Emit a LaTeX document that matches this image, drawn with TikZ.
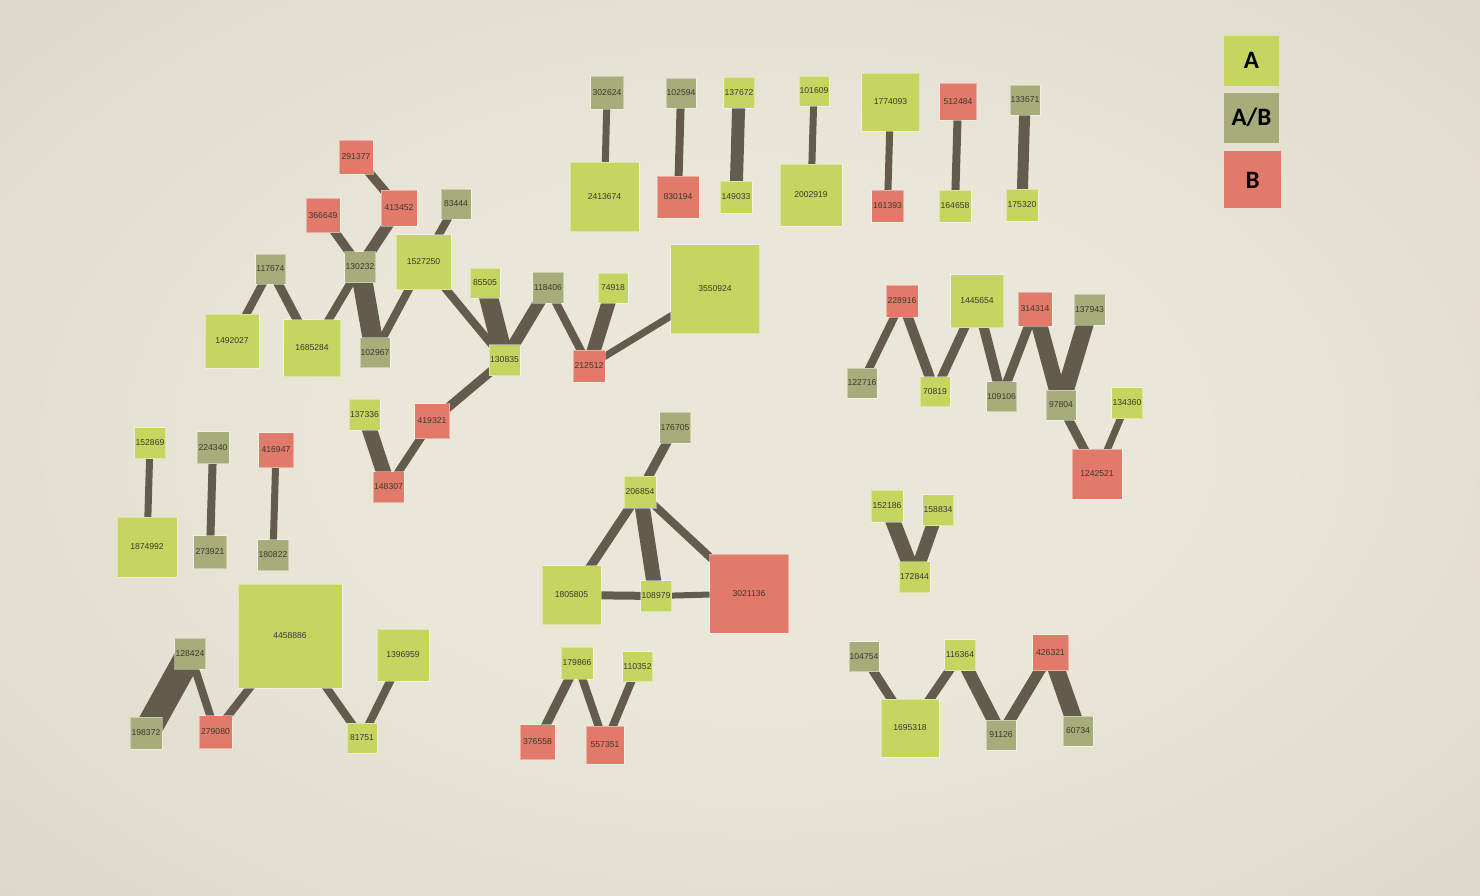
\documentclass[tikz,border=0pt]{standalone}
\usepackage{fontspec}
\setmainfont{Liberation Sans}
\newfontfamily\legfont{Carlito}
\pgfdeclarelayer{edgelayer}
\pgfsetlayers{edgelayer,main}
\definecolor{cA}{RGB}{197,214,96}
\definecolor{cAB}{RGB}{167,173,122}
\definecolor{cB}{RGB}{226,122,106}
\definecolor{edgec}{RGB}{99,92,77}
\definecolor{txtc}{RGB}{58,58,48}
\definecolor{bgin}{RGB}{234,230,216}
\definecolor{bgout}{RGB}{206,201,185}
\pgfdeclareradialshading{bgshade}{\pgfpoint{0bp}{0bp}}{color(0bp)=(bgin); color(12bp)=(bgin); color(50bp)=(bgout)}
\tikzset{
  sq/.style={rectangle, inner sep=0pt, minimum width=#1, minimum height=#1,
    draw=white, draw opacity=0.4, line width=0.6pt,
    font=\fontsize{8.6}{10}\selectfont, text=txtc},
  nA/.style={sq=#1, fill=cA},
  nAB/.style={sq=#1, fill=cAB},
  nB/.style={sq=#1, fill=cB},
  lnk/.style={line width=#1, draw=edgec, line cap=round},
  legbox/.style={rectangle, inner sep=0pt, font=\legfont\bfseries\fontsize{25}{28}\selectfont, text=black}
}
\begin{document}
\begin{tikzpicture}[x=1pt,y=-1pt]
\useasboundingbox (0,0) rectangle (1480,896);
\begin{pgfonlayer}{edgelayer}
\begin{scope}
\clip (0,0) rectangle (1480,896);
\shade[shading=bgshade] (-140,-120) rectangle (1660,1000);
\end{scope}
\end{pgfonlayer}

% top row
\node[nAB=33pt] (n302624) at (607,93) {302624};
\node[nA=69pt] (n2413674) at (604.5,197) {2413674};
\node[nAB=30pt] (n102594) at (681,93) {102594};
\node[nB=42pt] (n830194) at (678,197) {830194};
\node[nA=31pt] (n137672) at (739,93) {137672};
\node[nA=32pt] (n149033) at (736,197) {149033};
\node[nA=30pt] (n101609) at (814,91) {101609};
\node[nA=62pt] (n2002919) at (811,195) {2002919};
\node[nA=58pt] (n1774093) at (890.5,102) {1774093};
\node[nB=32pt] (n161393) at (887.5,206) {161393};
\node[nB=37pt] (n512484) at (958,102) {512484};
\node[nA=32pt] (n164658) at (955,206) {164658};
\node[nAB=30pt] (n133671) at (1025,100) {133671};
\node[nA=32pt] (n175320) at (1022,205) {175320};

% main cluster
\node[nB=34pt] (n291377) at (356,157) {291377};
\node[nB=36pt] (n413452) at (399,208) {413452};
\node[nB=34pt] (n366649) at (323,215.5) {366649};
\node[nAB=30pt] (n83444) at (456,204) {83444};
\node[nAB=30pt] (n117674) at (270.5,269) {117674};
\node[nAB=31pt] (n130232) at (360,267) {130232};
\node[nA=55pt] (n1527250) at (423.5,262) {1527250};
\node[nA=30pt] (n85505) at (485,283) {85505};
\node[nA=54pt] (n1492027) at (232,341) {1492027};
\node[nA=57pt] (n1685284) at (312,348) {1685284};
\node[nAB=30pt] (n102967) at (375,352.5) {102967};
\node[nA=31pt] (n130835) at (504.5,360) {130835};
\node[nAB=31pt] (n118406) at (548,287.5) {118406};
\node[nA=30pt] (n74918) at (613,288) {74918};
\node[nA=89pt] (n3550924) at (715,289) {3550924};
\node[nB=32pt] (n212512) at (589,366) {212512};
\node[nA=31pt] (n137336) at (364.5,414.5) {137336};
\node[nB=35pt] (n419321) at (432,421) {419321};
\node[nB=31pt] (n148307) at (388.5,487) {148307};

% triangle cluster
\node[nAB=31pt] (n176705) at (675,427.5) {176705};
\node[nA=32pt] (n206854) at (640,492) {206854};
\node[nA=59pt] (n1805805) at (571.5,595) {1805805};
\node[nA=31pt] (n108979) at (656,596) {108979};
\node[nB=79pt] (n3021136) at (749,593.5) {3021136};

% bottom middle
\node[nA=32pt] (n179866) at (577,663) {179866};
\node[nA=30pt] (n110352) at (637.5,666.5) {110352};
\node[nB=35pt] (n376558) at (537.5,742) {376558};
\node[nB=38pt] (n557351) at (605,745) {557351};

% bottom left
\node[nA=31pt] (n152869) at (150,443) {152869};
\node[nA=60pt] (n1874992) at (147,547) {1874992};
\node[nAB=32pt] (n224340) at (213,447.5) {224340};
\node[nAB=33pt] (n273921) at (210,552) {273921};
\node[nB=35pt] (n416947) at (276,450) {416947};
\node[nAB=31pt] (n180822) at (273,555) {180822};
\node[nA=104pt] (n4458886) at (290,636) {4458886};
\node[nA=52pt] (n1396959) at (403,655) {1396959};
\node[nAB=31pt] (n128424) at (190,653.5) {128424};
\node[nAB=32pt] (n198372) at (146,733) {198372};
\node[nB=33pt] (n279080) at (215.5,732) {279080};
\node[nA=30pt] (n81751) at (362,738) {81751};

% right cluster
\node[nB=32pt] (n228916) at (902,301) {228916};
\node[nA=53pt] (n1445654) at (977,301) {1445654};
\node[nB=34pt] (n314314) at (1035,309) {314314};
\node[nAB=31pt] (n137943) at (1089.5,309.5) {137943};
\node[nAB=30pt] (n122716) at (862,383) {122716};
\node[nA=30pt] (n70819) at (935,391.5) {70819};
\node[nAB=30pt] (n109106) at (1001.5,396.5) {109106};
\node[nAB=30pt] (n97804) at (1061,405) {97804};
\node[nA=31pt] (n134360) at (1127,403) {134360};
\node[nB=50pt] (n1242521) at (1097,474) {1242521};

% small Y
\node[nA=32pt] (n152186) at (887,506) {152186};
\node[nA=31pt] (n158834) at (938,510) {158834};
\node[nA=31pt] (n172844) at (914.5,577) {172844};

% bottom right
\node[nAB=30pt] (n104754) at (864,656.5) {104754};
\node[nA=58pt] (n1695318) at (910,728) {1695318};
\node[nA=31pt] (n116364) at (960,655) {116364};
\node[nAB=30pt] (n91126) at (1001,735) {91126};
\node[nB=36pt] (n426321) at (1050.5,652.5) {426321};
\node[nAB=30pt] (n60734) at (1078,731) {60734};

% legend
\node[legbox, fill=cA, minimum width=55pt, minimum height=50pt] (legA) at (1251.5,60.7) {A};
\node[legbox, fill=cAB, minimum width=55pt, minimum height=50pt] (legAB) at (1251.5,117.7) {A/B};
\node[legbox, fill=cB, minimum width=57pt, minimum height=57pt] (legB) at (1252.5,180) {B};

\begin{pgfonlayer}{edgelayer}
\draw[lnk=7pt] (n302624.center) -- (n2413674.center);
\draw[lnk=8pt] (n102594.center) -- (n830194.center);
\draw[lnk=13pt] (n137672.center) -- (n149033.center);
\draw[lnk=7pt] (n101609.center) -- (n2002919.center);
\draw[lnk=7pt] (n1774093.center) -- (n161393.center);
\draw[lnk=8pt] (n512484.center) -- (n164658.center);
\draw[lnk=11pt] (n133671.center) -- (n175320.center);

\draw[lnk=9pt] (n291377.center) -- (n413452.center);
\draw[lnk=9pt] (n366649.center) -- (n130232.center);
\draw[lnk=11pt] (n413452.center) -- (n130232.center);
\draw[lnk=8pt] (n83444.center) -- (n1527250.center);
\draw[lnk=8pt] (n117674.center) -- (n1492027.center);
\draw[lnk=9pt] (n117674.center) -- (n1685284.center);
\draw[lnk=8pt] (n130232.center) -- (n1685284.center);
\draw[lnk=20pt] (n130232.center) -- (n102967.center);
\draw[lnk=8pt] (n1527250.center) -- (n102967.center);
\draw[lnk=8pt] (n1527250.center) -- (n130835.center);
\draw[lnk=19pt] (n85505.center) -- (n130835.center);
\draw[lnk=12pt] (n118406.center) -- (n130835.center);
\draw[lnk=8pt] (n118406.center) -- (n212512.center);
\draw[lnk=14pt] (n74918.center) -- (n212512.center);
\draw[lnk=7pt] (n3550924.center) -- (n212512.center);
\draw[lnk=9pt] (n130835.center) -- (n419321.center);
\draw[lnk=15pt] (n137336.center) -- (n148307.center);
\draw[lnk=8pt] (n419321.center) -- (n148307.center);

\draw[lnk=9pt] (n176705.center) -- (n206854.center);
\draw[lnk=9pt] (n206854.center) -- (n1805805.center);
\draw[lnk=15pt] (n206854.center) -- (n108979.center);
\draw[lnk=8pt] (n206854.center) -- (n3021136.center);
\draw[lnk=8pt] (n1805805.center) -- (n108979.center);
\draw[lnk=6pt] (n108979.center) -- (n3021136.center);

\draw[lnk=9pt] (n179866.center) -- (n376558.center);
\draw[lnk=8pt] (n179866.center) -- (n557351.center);
\draw[lnk=8pt] (n110352.center) -- (n557351.center);

\draw[lnk=7pt] (n152869.center) -- (n1874992.center);
\draw[lnk=8pt] (n224340.center) -- (n273921.center);
\draw[lnk=7pt] (n416947.center) -- (n180822.center);
\draw[lnk=27pt] (n128424.center) -- (n198372.center);
\draw[lnk=8pt] (n128424.center) -- (n279080.center);
\draw[lnk=8pt] (n279080.center) -- (n4458886.center);
\draw[lnk=8pt] (n4458886.center) -- (n81751.center);
\draw[lnk=8pt] (n1396959.center) -- (n81751.center);

\draw[lnk=8pt] (n228916.center) -- (n122716.center);
\draw[lnk=10pt] (n228916.center) -- (n70819.center);
\draw[lnk=9pt] (n1445654.center) -- (n70819.center);
\draw[lnk=10pt] (n1445654.center) -- (n109106.center);
\draw[lnk=9pt] (n314314.center) -- (n109106.center);
\draw[lnk=16pt] (n314314.center) -- (n97804.center);
\draw[lnk=17pt] (n137943.center) -- (n97804.center);
\draw[lnk=9pt] (n97804.center) -- (n1242521.center);
\draw[lnk=7pt] (n134360.center) -- (n1242521.center);

\draw[lnk=15pt] (n152186.center) -- (n172844.center);
\draw[lnk=13pt] (n158834.center) -- (n172844.center);

\draw[lnk=9pt] (n104754.center) -- (n1695318.center);
\draw[lnk=9pt] (n116364.center) -- (n1695318.center);
\draw[lnk=13pt] (n116364.center) -- (n91126.center);
\draw[lnk=11pt] (n426321.center) -- (n91126.center);
\draw[lnk=17pt] (n426321.center) -- (n60734.center);
\end{pgfonlayer}
\end{tikzpicture}
\end{document}
